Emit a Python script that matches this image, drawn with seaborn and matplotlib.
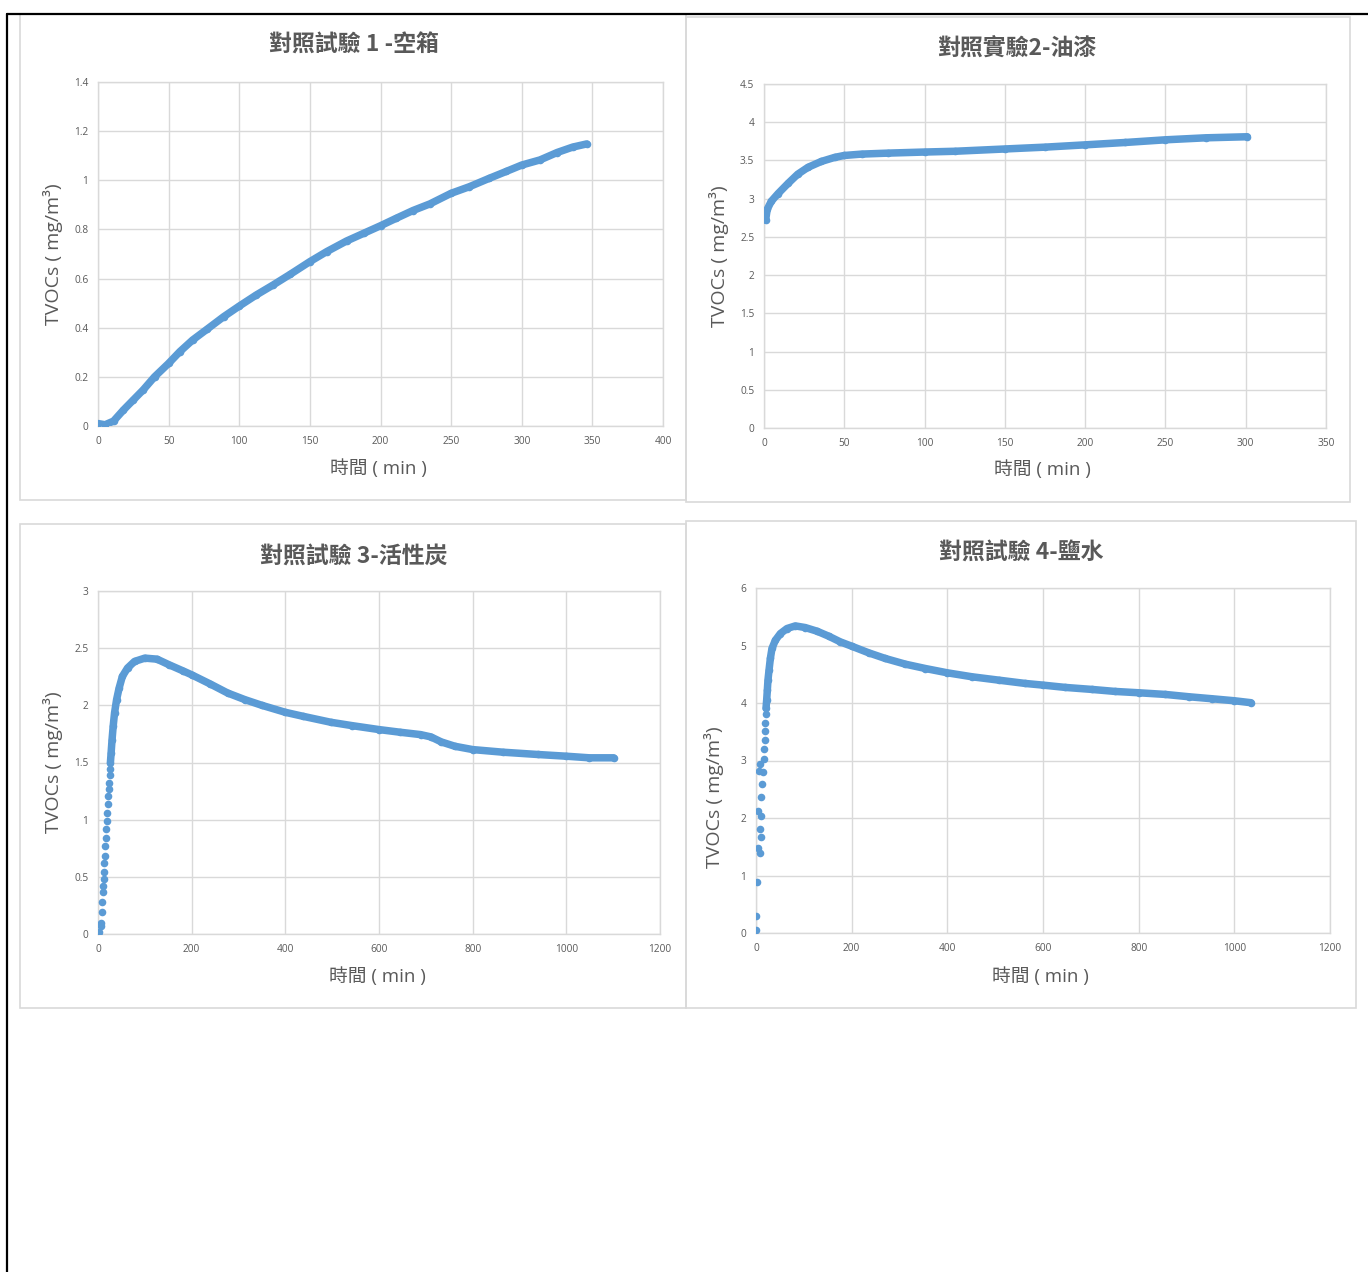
import matplotlib
matplotlib.use("Agg")
import matplotlib.pyplot as plt
from matplotlib.patches import Rectangle
from matplotlib.ticker import FuncFormatter, MultipleLocator
import pandas as pd
import seaborn as sns

# ---- data ----
titles = ["對照試驗 1 -空箱", "對照實驗2-油漆", "對照試驗 3-活性炭", "對照試驗 4-鹽水"]
xlabel = "時間 ( min )"
ylabel = "TVOCs ( mg/m³)"

exp1_time = [0, 5, 11, 18, 25, 32, 40, 50, 58, 67, 77, 89, 100, 112, 124, 136, 150, 162,
             176, 188, 200, 211, 223, 235, 250, 263, 277, 289, 300, 313, 325, 336, 346]
exp1_tvoc = [0.01, 0.005, 0.02, 0.065, 0.106, 0.147, 0.2, 0.255, 0.303, 0.35, 0.393, 0.445,
             0.488, 0.533, 0.574, 0.617, 0.669, 0.71, 0.753, 0.784, 0.815, 0.845, 0.877,
             0.904, 0.947, 0.974, 1.008, 1.036, 1.062, 1.083, 1.113, 1.135, 1.148]

exp2_time = [1, 2, 4.5, 8.7, 15, 21, 27.4, 35.7, 44, 50, 60.8, 77.4, 100, 118.8, 150, 175,
             200, 225, 250, 275, 301]
exp2_tvoc = [2.72, 2.86, 2.965, 3.065, 3.2, 3.32, 3.41, 3.487, 3.54, 3.565, 3.583, 3.596,
             3.61, 3.62, 3.65, 3.674, 3.704, 3.735, 3.77, 3.796, 3.81]

exp3_rise_time = [0, 3, 6, 7, 8, 9.5, 10.3, 11, 11.8, 12.5, 13.2, 14, 14.7, 16.2, 16.9, 18.4,
                  19.9, 21.3, 22, 23.5, 24.3, 25, 25.8]
exp3_rise_tvoc = [0, 0.015, 0.07, 0.1, 0.195, 0.276, 0.363, 0.42, 0.485, 0.544, 0.62, 0.683,
                  0.77, 0.843, 0.916, 0.988, 1.06, 1.134, 1.206, 1.265, 1.323, 1.387, 1.44]
exp3_time = [26.5, 28, 30, 32.4, 35.3, 39.7, 45, 52, 63, 78, 100, 126, 151.6, 181, 200, 240,
             276.7, 313.5, 350, 400, 438, 497, 541.6, 600, 644.6, 688.7, 710.8, 733, 762,
             800, 865, 939, 1000, 1049, 1101]
exp3_tvoc = [1.5, 1.584, 1.7, 1.817, 1.933, 2.05, 2.15, 2.253, 2.326, 2.384, 2.413, 2.404,
             2.355, 2.302, 2.267, 2.186, 2.108, 2.05, 2.0, 1.939, 1.904, 1.852, 1.823, 1.788,
             1.765, 1.744, 1.724, 1.68, 1.642, 1.613, 1.59, 1.57, 1.555, 1.541, 1.541]

exp4_rise_time = [0, 0.7, 2, 4.2, 7.7, 7.7, 9.8, 3.5, 11, 11, 13.2, 5.6, 15.3, 8.4, 16,
                  17.4, 18, 18.8, 19.5, 20.2]
exp4_rise_tvoc = [0.058, 0.29, 0.88, 1.475, 1.4, 1.81, 1.667, 2.124, 2.037, 2.36, 2.59, 2.82,
                  2.807, 2.94, 3.02, 3.206, 3.356, 3.51, 3.66, 3.81]
exp4_time = [20.9, 22.3, 23.7, 25, 27.2, 30, 33.4, 40.4, 51, 64.8, 82.2, 103, 127.5, 152,
             176, 200, 235.5, 270.4, 312, 354, 400, 451.6, 507, 563, 600, 646.7, 702.4,
             751, 800, 856, 904.5, 953, 1000, 1035]
exp4_tvoc = [3.906, 4.05, 4.225, 4.398, 4.57, 4.774, 4.948, 5.09, 5.208, 5.295, 5.341,
             5.312, 5.249, 5.162, 5.064, 4.988, 4.873, 4.774, 4.676, 4.6, 4.525, 4.456,
             4.398, 4.34, 4.311, 4.271, 4.236, 4.201, 4.178, 4.149, 4.109, 4.074, 4.039,
             4.005]

# ---- layout (pixels of the 1368x1272 page) ----
W, H = 1368, 1272
BLUE = "#5b9bd5"
GRID = "#d9d9d9"
TXT = "#595959"

sns.set_style("white")
plt.rcParams["font.family"] = ["Open Sans", "Noto Sans CJK TC", "DejaVu Sans"]
TITLE_FONT = ["Noto Sans CJK TC", "Open Sans"]

fig = plt.figure(figsize=(W / 100, H / 100), dpi=100)

bg = fig.add_axes([0, 0, 1, 1])
bg.set_xlim(0, W)
bg.set_ylim(H, 0)
bg.axis("off")
for x0, y0, x1, y1 in [(20, 14, 686, 500), (686, 17, 1350, 502),
                       (20, 524, 686, 1008), (686, 521, 1356, 1008)]:
    bg.add_patch(Rectangle((x0, y0), x1 - x0, y1 - y0, fill=False, ec=GRID, lw=1.2))
bg.plot([7, W], [14, 14], color="black", lw=1.6)
bg.plot([7, 7], [14, H], color="black", lw=1.6)

panels = [
    # plot box (x0, y0, x1, y1), axis limits/steps, title / ylabel / xlabel centres
    dict(box=(98, 82, 663, 426), xmax=400, xstep=50, ymax=1.4, ystep=0.2,
         title=(354, 45), yl=(53, 254), xl=(378, 469)),
    dict(box=(764, 84, 1326, 428), xmax=350, xstep=50, ymax=4.5, ystep=0.5,
         title=(1017, 48), yl=(719, 256), xl=(1042, 470)),
    dict(box=(98, 591, 660, 934), xmax=1200, xstep=200, ymax=3, ystep=0.5,
         title=(354, 556), yl=(53, 762), xl=(377, 977)),
    dict(box=(756, 588, 1330, 933), xmax=1200, xstep=200, ymax=6, ystep=1,
         title=(1021, 552), yl=(714, 797), xl=(1040, 977)),
]

series = [
    (None, pd.DataFrame({"t": exp1_time, "v": exp1_tvoc})),
    (None, pd.DataFrame({"t": exp2_time, "v": exp2_tvoc})),
    (pd.DataFrame({"t": exp3_rise_time, "v": exp3_rise_tvoc}),
     pd.DataFrame({"t": exp3_time, "v": exp3_tvoc})),
    (pd.DataFrame({"t": exp4_rise_time, "v": exp4_rise_tvoc}),
     pd.DataFrame({"t": exp4_time, "v": exp4_tvoc})),
]

fmt = FuncFormatter(lambda v, p: f"{v:g}")

for i, p in enumerate(panels):
    x0, y0, x1, y1 = p["box"]
    ax = fig.add_axes([x0 / W, 1 - y1 / H, (x1 - x0) / W, (y1 - y0) / H])
    rise, dense = series[i]

    sns.lineplot(x="t", y="v", data=dense, ax=ax, color=BLUE, lw=5.4,
                 solid_capstyle="round", solid_joinstyle="round", zorder=3)
    sns.scatterplot(x="t", y="v", data=dense, ax=ax, color=BLUE, s=30,
                    linewidth=0, zorder=4)
    if rise is not None:
        sns.scatterplot(x="t", y="v", data=rise, ax=ax, color=BLUE, s=30,
                        linewidth=0, zorder=4)

    ax.set_xlim(0, p["xmax"])
    ax.set_ylim(0, p["ymax"])
    ax.xaxis.set_major_locator(MultipleLocator(p["xstep"]))
    ax.yaxis.set_major_locator(MultipleLocator(p["ystep"]))
    ax.xaxis.set_major_formatter(fmt)
    ax.yaxis.set_major_formatter(fmt)
    ax.grid(True, color=GRID, lw=1)
    ax.set_axisbelow(True)
    for s in ax.spines.values():
        s.set_color(GRID)
        s.set_linewidth(1)
    ax.tick_params(length=0, labelsize=7.3, labelcolor=TXT, pad=7)
    ax.set_xlabel("")
    ax.set_ylabel("")

    tx, ty = p["title"]
    fig.text(tx / W, 1 - ty / H, titles[i], ha="center", va="center",
             fontsize=16.5, fontweight="bold", color=TXT, family=TITLE_FONT)
    lx, ly = p["yl"]
    fig.text(lx / W, 1 - ly / H, ylabel, ha="center", va="center", rotation=90,
             fontsize=14, color=TXT)
    lx, ly = p["xl"]
    fig.text(lx / W, 1 - ly / H, xlabel, ha="center", va="center",
             fontsize=13.5, color=TXT)

fig.savefig("out.png", dpi=100)
